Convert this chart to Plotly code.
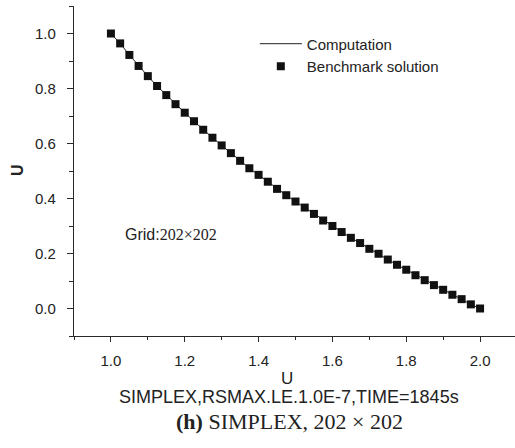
import plotly.graph_objects as go

# Data
x_vals = [1.000, 1.025, 1.050, 1.075, 1.100, 1.125, 1.150, 1.175, 1.200, 1.225,
          1.250, 1.275, 1.300, 1.325, 1.350, 1.375, 1.400, 1.425, 1.450, 1.475,
          1.500, 1.525, 1.550, 1.575, 1.600, 1.625, 1.650, 1.675, 1.700, 1.725,
          1.750, 1.775, 1.800, 1.825, 1.850, 1.875, 1.900, 1.925, 1.950, 1.975, 2.000]
benchmark = [1.000, 0.964, 0.922, 0.882, 0.845, 0.809, 0.776, 0.743, 0.712, 0.681,
             0.650, 0.621, 0.593, 0.565, 0.537, 0.510, 0.486, 0.461, 0.435, 0.412,
             0.389, 0.367, 0.344, 0.320, 0.300, 0.278, 0.257, 0.238, 0.217, 0.199,
             0.178, 0.159, 0.141, 0.121, 0.103, 0.085, 0.068, 0.050, 0.034, 0.015, 0.000]
computation = [1.000, 0.964, 0.922, 0.882, 0.845, 0.809, 0.776, 0.743, 0.712, 0.681,
               0.650, 0.621, 0.593, 0.565, 0.537, 0.510, 0.486, 0.461, 0.435, 0.412,
               0.389, 0.367, 0.344, 0.320, 0.300, 0.278, 0.257, 0.238, 0.217, 0.199,
               0.178, 0.159, 0.141, 0.121, 0.103, 0.085, 0.068, 0.050, 0.034, 0.015, 0.000]
x_ticks = [1.0, 1.2, 1.4, 1.6, 1.8, 2.0]
y_ticks = [0.0, 0.2, 0.4, 0.6, 0.8, 1.0]

SANS = "Liberation Sans, Arial, sans-serif"
SERIF = "Liberation Serif, Times New Roman, serif"
AXC = "#2a2a2a"

fig = go.Figure()
fig.add_trace(go.Scatter(x=x_vals, y=computation, mode="lines", name="Computation",
                         line=dict(color="#222222", width=1)))
fig.add_trace(go.Scatter(x=x_vals, y=benchmark, mode="markers", name="Benchmark solution",
                         marker=dict(symbol="square", size=8, color="#111111")))

fig.update_layout(
    width=515, height=448,
    margin=dict(l=74, r=0, t=6, b=112),
    plot_bgcolor="white", paper_bgcolor="white",
    font=dict(family=SANS, size=15, color="#222222"),
    showlegend=True,
    legend=dict(x=0.41, y=0.935, xanchor="left", yanchor="top",
                bgcolor="rgba(0,0,0,0)", itemwidth=42, tracegroupgap=0,
                font=dict(family=SANS, size=15, color="#222222")),
    xaxis=dict(range=[0.9, 2.0946], tickvals=x_ticks, ticktext=[f"{v:.1f}" for v in x_ticks],
               showgrid=False, zeroline=False, showline=True, linecolor=AXC, linewidth=1.3,
               ticks="outside", ticklen=5, tickwidth=1.2, tickcolor=AXC,
               ticklabelstandoff=6,
               minor=dict(tickvals=[0.9, 1.1, 1.3, 1.5, 1.7, 1.9], ticks="outside",
                          ticklen=3, tickwidth=1.2, tickcolor=AXC),
               tickfont=dict(family=SANS, size=15, color="#222222")),
    yaxis=dict(range=[-0.1, 1.1], tickvals=y_ticks, ticktext=[f"{v:.1f}" for v in y_ticks],
               showgrid=False, zeroline=False, showline=True, linecolor=AXC, linewidth=1.3,
               ticks="outside", ticklen=6, tickwidth=1.2, tickcolor=AXC,
               ticklabelstandoff=8,
               minor=dict(tickvals=[-0.1, 0.1, 0.3, 0.5, 0.7, 0.9, 1.1], ticks="outside",
                          ticklen=3.5, tickwidth=1.2, tickcolor=AXC),
               tickfont=dict(family=SANS, size=15, color="#222222")),
)

annots = [
    dict(text="U", x=287, y=378, font=dict(family=SANS, size=17, color="#222222")),
    dict(text="<b>U</b>", x=17, y=170, textangle=-90, font=dict(family=SANS, size=16, color="#222222")),
    dict(text="SIMPLEX,RSMAX.LE.1.0E-7,TIME=1845s", x=289, y=396.5,
         font=dict(family=SANS, size=18, color="#222222")),
    dict(text="<b>(h)</b> SIMPLEX, 202 × 202", x=289.5, y=421,
         font=dict(family=SERIF, size=22, color="#222222")),
    dict(text="Grid:<span style='font-family:Liberation Serif, Times New Roman, serif'>202×202</span>",
         x=171, y=234, font=dict(family=SANS, size=16, color="#222222")),
]
for a in annots:
    fig.add_annotation(text=a["text"], xref="paper", yref="paper",
                       x=(a["x"] - 74) / 441, y=(336 - a["y"]) / 330,
                       xanchor="center", yanchor="middle", showarrow=False,
                       textangle=a.get("textangle", 0), font=a["font"])

fig.write_html("out.html")
